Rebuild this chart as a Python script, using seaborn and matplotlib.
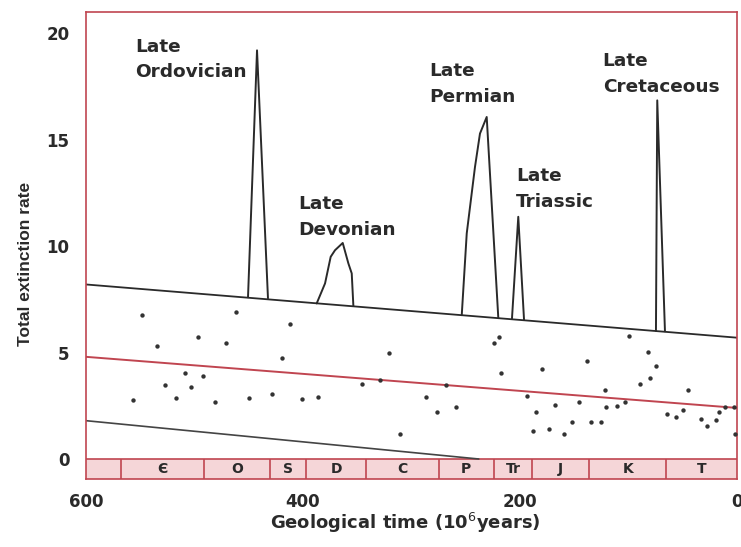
import matplotlib
matplotlib.use("Agg")
import matplotlib.pyplot as plt
import seaborn as sns

# background trend lines (time in 10^6 years, total extinction rate)
upper_x = [600, 0]
upper_y = [8.2, 5.7]
mean_x = [600, 0]
mean_y = [4.8, 2.4]
lower_x = [600, 238]
lower_y = [1.8, 0.0]

# background extinction points
pts_time = [548.4, 461.8, 534.6, 496.8, 471.0, 509.0, 492.2, 526.9, 503.0, 556.7,
            517.0, 481.4, 449.5, 412.0, 419.1, 320.7, 428.9, 400.6, 385.9, 345.9,
            329.0, 310.6, 219.1, 223.7, 217.5, 180.0, 268.2, 286.9, 276.2, 259.0,
            193.3, 185.3, 167.7, 145.6, 152.4, 188.3, 173.0, 159.4, 99.3, 138.5,
            82.3, 74.7, 80.2, 89.1, 121.7, 45.4, 120.5, 110.6, 102.9, 134.6,
            125.6, 64.8, 56.5, 50.2, 33.6, 27.6, 19.8, 17.0, 10.6, 3.2, 1.8]
pts_rate = [6.76, 6.89, 5.32, 5.71, 5.43, 4.02, 3.90, 3.47, 3.39, 2.77,
            2.88, 2.66, 2.88, 6.32, 4.76, 4.96, 3.04, 2.82, 2.90, 3.52,
            3.71, 1.17, 5.71, 5.43, 4.02, 4.21, 3.47, 2.90, 2.19, 2.46,
            2.96, 2.19, 2.54, 2.66, 1.75, 1.31, 1.41, 1.16, 5.79, 4.62,
            5.04, 4.38, 3.82, 3.51, 3.23, 3.24, 2.43, 2.50, 2.66, 1.75,
            1.72, 2.13, 1.95, 2.30, 1.88, 1.55, 1.85, 2.22, 2.44, 2.42, 1.17]

# mass extinction peaks
ordovician_x = [450.7, 442.4, 432.3]
ordovician_y = [7.6, 19.2, 7.55]
devonian_x = [387.4, 379.7, 374.5, 370.5, 363.4, 358.2, 355.1, 353.6]
devonian_y = [7.31, 8.25, 9.5, 9.81, 10.15, 9.19, 8.72, 7.2]
permian_x = [253.7, 249.1, 241.5, 236.9, 230.7, 220.0]
permian_y = [6.76, 10.6, 13.72, 15.29, 16.07, 6.62]
triassic_x = [207.4, 201.6, 196.3]
triassic_y = [6.6, 11.38, 6.55]
cretaceous_x = [74.7, 73.5, 66.4]
cretaceous_y = [6.02, 16.85, 6.0]

events = ["Late\nOrdovician", "Late\nDevonian", "Late\nPermian",
          "Late\nTriassic", "Late\nCretaceous"]
event_x = [554.8, 404.3, 283.5, 203.7, 123.8]
event_y = [19.8, 12.4, 18.65, 13.7, 19.1]

# geological periods
period_edges = [600, 568, 491, 430, 397, 342, 275, 224, 189, 136, 65, 0]
period_names = ["", "Є", "O", "S", "D", "C", "P", "Tr", "J", "K", "T"]

sns.set_theme(style="white")
plt.rcParams['font.family'] = ['DejaVu Sans']

red = '#c04550'
ink = '#2a2a2a'
band_bottom = -0.94

fig = plt.figure(figsize=(7.41, 5.47), dpi=100)
ax = fig.add_axes([0.1161, 0.1243, 0.8785, 0.8537])

# period band under the axis
ax.axhspan(band_bottom, 0, facecolor='#f5d6d8', edgecolor='none', zorder=0)
ax.axhline(0, color=red, lw=1.2, zorder=1)
ax.vlines(period_edges[1:-1], band_bottom, 0, color=red, lw=1.2, zorder=1)
for i, name in enumerate(period_names):
    mid = (period_edges[i] + period_edges[i + 1]) / 2
    ax.text(mid, band_bottom / 2, name, ha='center', va='center',
            fontsize=10, fontweight='bold', color=ink)

# trend lines
sns.lineplot(x=upper_x, y=upper_y, sort=False, estimator=None, color=ink, lw=1.3, ax=ax)
sns.lineplot(x=mean_x, y=mean_y, sort=False, estimator=None, color=red, lw=1.4, ax=ax)
sns.lineplot(x=lower_x, y=lower_y, sort=False, estimator=None, color='#444444', lw=1.2, ax=ax)

# peaks
for px, py in [(ordovician_x, ordovician_y), (devonian_x, devonian_y),
               (permian_x, permian_y), (triassic_x, triassic_y),
               (cretaceous_x, cretaceous_y)]:
    sns.lineplot(x=px, y=py, sort=False, estimator=None, color=ink, lw=1.4, ax=ax)

sns.scatterplot(x=pts_time, y=pts_rate, s=10, color='#333333', linewidth=0, ax=ax, zorder=3)

for name, tx, ty in zip(events, event_x, event_y):
    ax.text(tx, ty, name, ha='left', va='top', fontsize=13.3, fontweight='bold',
            color=ink, linespacing=1.55)

ax.set_xlim(600, 0)
ax.set_ylim(band_bottom, 21)
ax.set_xticks([600, 400, 200, 0])
ax.set_yticks([0, 5, 10, 15, 20])
ax.tick_params(axis='both', direction='out', length=6, width=1.2, color=red,
               labelsize=12, labelcolor=ink, pad=4)
ax.tick_params(axis='y', pad=6)
for lab in ax.get_xticklabels() + ax.get_yticklabels():
    lab.set_fontweight('bold')

for side in ['left', 'right', 'top', 'bottom']:
    ax.spines[side].set_color(red)
    ax.spines[side].set_linewidth(1.2)

ax.set_xlabel('Geological time (10$^{6}$years)', fontsize=13, fontweight='bold', color=ink)
ax.set_ylabel('Total extinction rate', fontsize=12.5, fontweight='bold', color=ink,
              family=['Liberation Sans', 'DejaVu Sans'])
ax.xaxis.set_label_coords(0.49, -0.068)
ax.yaxis.set_label_coords(-0.082, 0.46)

fig.savefig('out.png', dpi=100)
